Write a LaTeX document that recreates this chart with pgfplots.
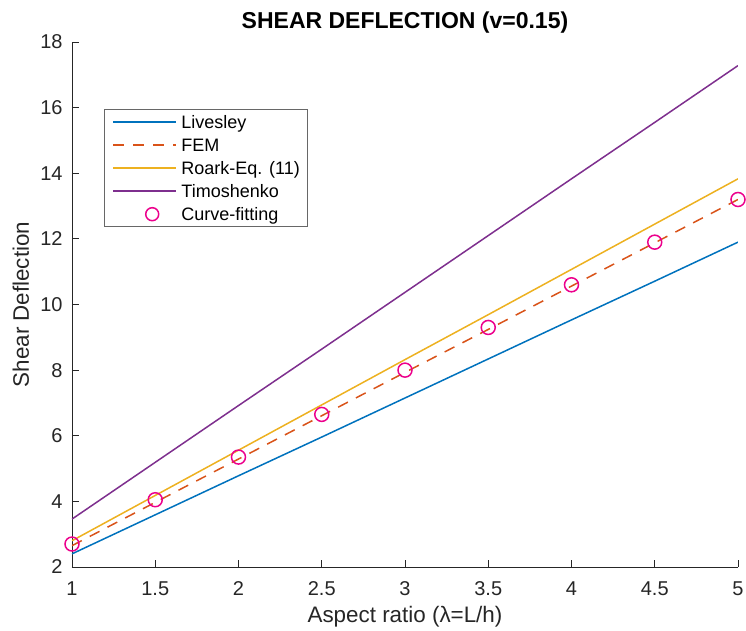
\documentclass[border=0pt]{standalone}
\usepackage{pgfplots}
\pgfplotsset{compat=1.18}
\usepackage{fontspec}
\setmainfont{Liberation Sans}
\definecolor{mblue}{rgb}{0,0.447,0.741}
\definecolor{morange}{rgb}{0.85,0.325,0.098}
\definecolor{myellow}{rgb}{0.929,0.694,0.125}
\definecolor{mpurple}{rgb}{0.494,0.184,0.556}
\definecolor{axgray}{rgb}{0.15,0.15,0.15}
\pgfplotsset{
  linelegend/.style={legend image code/.code={\path[draw=none] (0pt,0pt) -- (34.5pt,0pt);\draw[##1] (1.5pt,0pt) -- (33pt,0pt);}},
  marklegend/.style={legend image code/.code={\path[draw=none] (0pt,0pt) -- (34.5pt,0pt);\node[draw=magenta, line width=0.75pt, circle, text height=0pt, text depth=0pt, minimum size=6.5pt, inner sep=0pt] at (17.25pt,0pt) {};}},
}
\begin{document}
\begin{tikzpicture}
\path[use as bounding box] (-36pt,-32pt) rectangle (337pt,283.5pt);
\begin{axis}[
  at={(0pt,0pt)}, anchor=south west,
  scale only axis,
  width=333pt, height=262.5pt,
  xmin=1, xmax=5, ymin=2, ymax=18,
  xtick={1,1.5,2,2.5,3,3.5,4,4.5,5},
  ytick={2,4,...,18},
  xticklabels={1,1.5,2,2.5,3,3.5,4,4.5,5},
  axis x line*=bottom, axis y line*=left,
  axis line style={axgray, line width=0.4pt},
  tick style={axgray, line width=0.4pt},
  tick align=inside,
  major tick length=3.5pt,
  /pgf/number format/assume math mode=true,
  tick label style={font=\fontsize{10}{12}\selectfont, text=axgray},
  x tick label style={anchor=base, yshift=-14.5pt},
  y tick label style={anchor=east, xshift=-1.2pt},
  xlabel={Aspect ratio (λ=L/h)},
  ylabel={Shear Deflection},
  label style={font=\fontsize{11.2}{13}\selectfont, text=axgray},
  xlabel style={at={([yshift=-28pt]axis description cs:0.5,0)}, anchor=base},
  ylabel style={at={([xshift=-21.6pt]axis description cs:0,0.5)}, anchor=base},
  title={\bfseries SHEAR DEFLECTION (v=0.15)},
  title style={font=\fontsize{11.5}{13}\selectfont, at={([yshift=6.5pt]axis description cs:0.5,1)}, anchor=base, yshift=-6pt},
  legend style={at={(0.048,0.872)}, anchor=north west, font=\fontsize{9}{10}\selectfont,
    draw=axgray!70, line width=0.5pt, inner xsep=3pt, inner ysep=0.5pt, row sep=0pt,
    nodes={text height=8pt, text depth=1.5pt, inner sep=1pt}},
  legend cell align=left,
]
\addplot[draw=mblue, line width=0.75pt, linelegend] coordinates {(1,2.40)(1.5,3.59)(2,4.78)(2.5,5.96)(3,7.15)(3.5,8.34)(4,9.53)(4.5,10.71)(5,11.90)};
\addlegendentry{Livesley}
\addplot[draw=morange, line width=0.75pt, dash pattern=on 5.5pt off 4.5pt, linelegend] coordinates {(1,2.65)(1.5,3.97)(2,5.29)(2.5,6.61)(3,7.93)(3.5,9.24)(4,10.56)(4.5,11.88)(5,13.20)};
\addlegendentry{FEM}
\addplot[draw=myellow, line width=0.75pt, linelegend] coordinates {(1,2.80)(1.5,4.18)(2,5.56)(2.5,6.94)(3,8.32)(3.5,9.69)(4,11.07)(4.5,12.45)(5,13.83)};
\addlegendentry{Roark-Eq. (11)}
\addplot[draw=mpurple, line width=0.75pt, linelegend] coordinates {(1,3.46)(1.5,5.19)(2,6.92)(2.5,8.64)(3,10.37)(3.5,12.10)(4,13.83)(4.5,15.55)(5,17.28)};
\addlegendentry{Timoshenko}
\addplot[only marks, mark=o, mark size=3.5pt, color=magenta, mark options={draw=magenta, line width=0.75pt}, marklegend] coordinates {(1,2.7)(1.5,4.05)(2,5.35)(2.5,6.65)(3,8.0)(3.5,9.3)(4,10.6)(4.5,11.9)(5,13.2)};
\addlegendentry{Curve-fitting}
\end{axis}
\end{tikzpicture}
\end{document}
